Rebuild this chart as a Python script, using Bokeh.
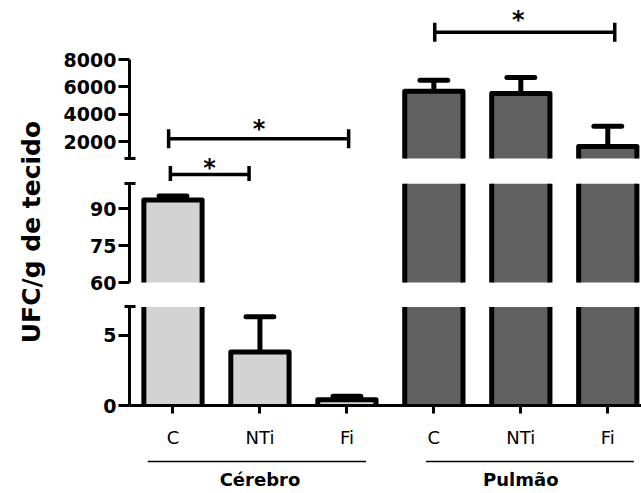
import numpy as np
from bokeh.plotting import figure
from bokeh.layouts import row, column
from bokeh.models import Range1d, FixedTicker
from bokeh.core.properties import value
from bokeh.embed import file_html
from bokeh.resources import INLINE

# ---------------- data ----------------
group_names = ["Cérebro", "Pulmão"]
conditions = ["C", "NTi", "Fi"]
cerebro_mean = [93.4, 3.8, 0.4]
cerebro_err = [1.7, 2.5, 0.25]
pulmao_mean = [5670.0, 5520.0, 1640.0]
pulmao_err = [810.0, 1170.0, 1470.0]
y_label = "UFC/g de tecido"
star = "*"

# broken y axis: (low, high) of each segment and its tick values
seg_bottom = (0, 7)
ticks_bottom = [0, 5]
seg_middle = (60, 100)
ticks_middle = [60, 75, 90]
seg_top = (760, 8000)
ticks_top = [2000, 4000, 6000, 8000]

# significance brackets (placed in the upper panel):
# (x_from, x_to, level, star_x, star pixel offset, end size)
sig_top = [(4.01, 6.08, 10000.0, 4.97, -12, 19),
           (0.95, 3.02, 2200.0, 1.99, -10, 19),
           (0.97, 1.875, -415.0, 1.42, -7, 17)]

# ---------------- style / layout ----------------
LIGHT = "#d3d3d3"
DARK = "#606060"
BAR_W = 0.67
CAP = 0.16
FONT = "DejaVu Sans"

FIG_X0 = 60
FRAME_X0 = 127
FRAME_X1 = 641
STEP = 87.3
W_MAIN = FRAME_X1 - FIG_X0
BORDER_L = FRAME_X0 - FIG_X0
x_start = 0.5
xr = Range1d(x_start, x_start + (FRAME_X1 - FRAME_X0) / STEP)

x_c = [1, 2, 3]
x_p = [4, 5, 6]

Y_TOP0, Y_TOP1 = 0, 181
Y_MID1 = 295
Y_BOT1 = 406
Y_AX1 = 450
Y_END = 493


def y_range(va, pa, vb, pb, p_top, p_bot):
    k = (va - vb) / (pb - pa)
    return Range1d(va - (p_bot - pa) * k, va + (pa - p_top) * k)


def make_fig(height, yr, border_bottom=0, x_axis=False):
    p = figure(width=W_MAIN, height=height, x_range=xr, y_range=yr,
               output_backend="svg", toolbar_location=None, title=None,
               x_axis_location="below" if x_axis else None,
               min_border_left=BORDER_L, min_border_right=0,
               min_border_top=0, min_border_bottom=border_bottom)
    p.outline_line_color = None
    p.grid.visible = False
    return p


def style_yaxis(p, seg, ticks, cap):
    ax = p.yaxis[0]
    ax.bounds = seg
    ax.ticker = FixedTicker(ticks=ticks, minor_ticks=[cap])
    ax.axis_line_width = 3
    ax.major_tick_line_width = 3
    ax.major_tick_out = 11
    ax.major_tick_in = 0
    ax.minor_tick_line_width = 3
    ax.minor_tick_in = 6
    ax.minor_tick_out = 5
    ax.major_label_text_font = FONT
    ax.major_label_text_font_style = "bold"
    ax.major_label_text_font_size = "19px"
    ax.major_label_text_color = "black"
    ax.major_label_standoff = 2


def draw_bars(p, lo, hi):
    for means, errs, xs, color in [(cerebro_mean, cerebro_err, x_c, LIGHT),
                                   (pulmao_mean, pulmao_err, x_p, DARK)]:
        L, R, B, T = [], [], [], []
        oxs, oys = [], []
        for x, m in zip(xs, means):
            if m <= lo:
                continue
            t = min(m, hi)
            l, r = x - BAR_W / 2, x + BAR_W / 2
            L.append(l); R.append(r); B.append(lo); T.append(t)
            if m <= hi:
                oxs.append([l, l, r, r]); oys.append([lo, t, t, lo])
            else:
                oxs += [[l, l], [r, r]]; oys += [[lo, t], [lo, t]]
        if L:
            p.quad(left=L, right=R, bottom=B, top=T, fill_color=color, line_color=None)
            p.multi_line(oxs, oys, line_color="black", line_width=5, line_join="round")
        ex, e0, e1 = [], [], []
        for x, m, e in zip(xs, means, errs):
            if lo < m + e <= hi:
                ex.append(x); e0.append(m); e1.append(m + e)
        if ex:
            p.segment(x0=ex, y0=e0, x1=ex, y1=e1, line_color="black", line_width=5)
            p.segment(x0=[x - CAP for x in ex], y0=e1, x1=[x + CAP for x in ex], y1=e1,
                      line_color="black", line_width=5, line_cap="round")


def draw_sig(p, sigs):
    for x0, x1, lvl, sx, off, es in sigs:
        p.segment(x0=[x0], y0=[lvl], x1=[x1], y1=[lvl], line_color="black", line_width=3.5)
        p.scatter(x=[x0, x1], y=[lvl, lvl], marker="dash", size=es, angle=np.pi / 2,
                  line_color="black", line_width=3.5)
        p.text(x=[sx], y=[lvl], text=[star], text_align="center", text_baseline="alphabetic",
               y_offset=off, text_font=value(FONT), text_font_style="bold",
               text_font_size="24px", text_color="black")


# top segment
top = make_fig(Y_TOP1 - Y_TOP0, y_range(8000, 59, 2000, 141, Y_TOP0, Y_TOP1))
style_yaxis(top, seg_top, ticks_top, seg_top[0])
draw_bars(top, *seg_top)
draw_sig(top, sig_top)

# middle segment
mid = make_fig(Y_MID1 - Y_TOP1, y_range(90, 208, 60, 282, Y_TOP1, Y_MID1))
style_yaxis(mid, seg_middle, ticks_middle, seg_middle[1])
draw_bars(mid, *seg_middle)

# bottom segment (+ x axis)
bot = make_fig(Y_AX1 - Y_MID1, y_range(0, Y_BOT1, 5, 335, Y_MID1, Y_BOT1),
               border_bottom=Y_AX1 - Y_BOT1, x_axis=True)
style_yaxis(bot, seg_bottom, ticks_bottom, seg_bottom[1])
draw_bars(bot, *seg_bottom)
xa = bot.xaxis[0]
xa.ticker = FixedTicker(ticks=x_c + x_p)
xa.major_label_overrides = {x: lab for x, lab in zip(x_c + x_p, conditions + conditions)}
xa.axis_line_width = 3
xa.major_tick_line_width = 3
xa.major_tick_out = 8
xa.major_tick_in = 0
xa.major_label_text_font = FONT
xa.major_label_text_font_size = "18px"
xa.major_label_text_color = "black"
xa.major_label_standoff = 13

# group labels
GH = Y_END - Y_AX1
grp = figure(width=W_MAIN, height=GH, x_range=xr, y_range=Range1d(0, GH),
             output_backend="svg", toolbar_location=None, title=None,
             x_axis_location=None, y_axis_location=None,
             min_border_left=BORDER_L, min_border_right=0, min_border_top=0, min_border_bottom=0)
grp.outline_line_color = None
grp.grid.visible = False
grp.segment(x0=[0.71, 3.91], y0=[GH - 11, GH - 11], x1=[3.22, 6.30], y1=[GH - 11, GH - 11],
            line_color="black", line_width=1.5)
grp.text(x=[2, 5], y=[GH - 29, GH - 29], text=group_names, text_align="center",
         text_baseline="middle", text_font=value(FONT), text_font_style="bold",
         text_font_size="18px", text_color="black")

# y label
lab = figure(width=FIG_X0, height=Y_END, x_range=Range1d(0, FIG_X0),
             y_range=Range1d(0, Y_END), output_backend="svg", toolbar_location=None, title=None,
             x_axis_location=None, y_axis_location=None, min_border=0)
lab.outline_line_color = None
lab.grid.visible = False
lab.text(x=[31], y=[Y_END - 231.5], text=[y_label], angle=np.pi / 2,
         text_align="center", text_baseline="middle", text_font=value(FONT),
         text_font_style="bold", text_font_size="25px", text_color="black")

layout = row(lab, column(top, mid, bot, grp))
open("out.html", "w").write(file_html(layout, INLINE))
